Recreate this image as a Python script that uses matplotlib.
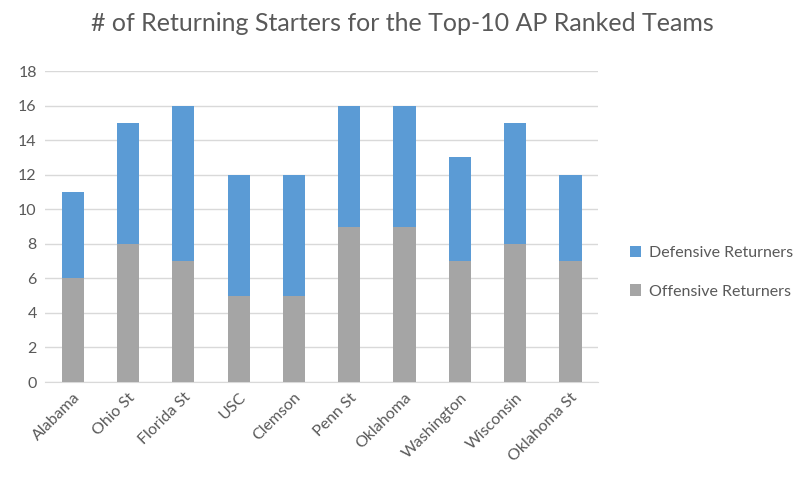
import matplotlib
matplotlib.use('Agg')
from matplotlib import pyplot as plt

teams = ['Alabama', 'Ohio St', 'Florida St', 'USC', 'Clemson',
         'Penn St', 'Oklahoma', 'Washington', 'Wisconsin', 'Oklahoma St']
offense = [6, 8, 7, 5, 5, 9, 9, 7, 8, 7]
defense = [5, 7, 9, 7, 7, 7, 7, 6, 7, 5]

plt.rcParams['font.family'] = ['Lato', 'DejaVu Sans']

fig = plt.figure(figsize=(8.05, 4.83), dpi=100)
ax = fig.add_axes([0.056, 0.209, 0.687, 0.644])

x = range(len(teams))
ax.bar(x, offense, width=0.4, color='#A5A5A5', label='Offensive Returners', zorder=3)
ax.bar(x, defense, width=0.4, bottom=offense, color='#5B9BD5',
       label='Defensive Returners', zorder=3)

ax.set_ylim(0, 18)
ax.set_yticks(range(0, 19, 2))
ax.set_xlim(-0.5, len(teams) - 0.5)
ax.set_xticks(list(x))
ax.set_xticklabels(teams, rotation=45, ha='right', rotation_mode='anchor')
ax.grid(axis='y', color='#D9D9D9', linewidth=1, zorder=0)
for side in ['top', 'right', 'left']:
    ax.spines[side].set_visible(False)
ax.spines['bottom'].set_color('#D9D9D9')
ax.tick_params(axis='both', length=0, labelsize=11.5, colors='#595959', pad=6)

fig.suptitle('# of Returning Starters for the Top-10 AP Ranked Teams',
             fontsize=18, color='#595959', x=0.5, y=0.975)

handles, labels = ax.get_legend_handles_labels()
fig.legend(handles[::-1], labels[::-1], loc='center left',
           bbox_to_anchor=(0.765, 0.436), frameon=False, fontsize=11.5,
           labelcolor='#595959', handlelength=0.7, handleheight=0.7,
           labelspacing=1.5, handletextpad=0.5)

plt.savefig('out.png', dpi=100)
